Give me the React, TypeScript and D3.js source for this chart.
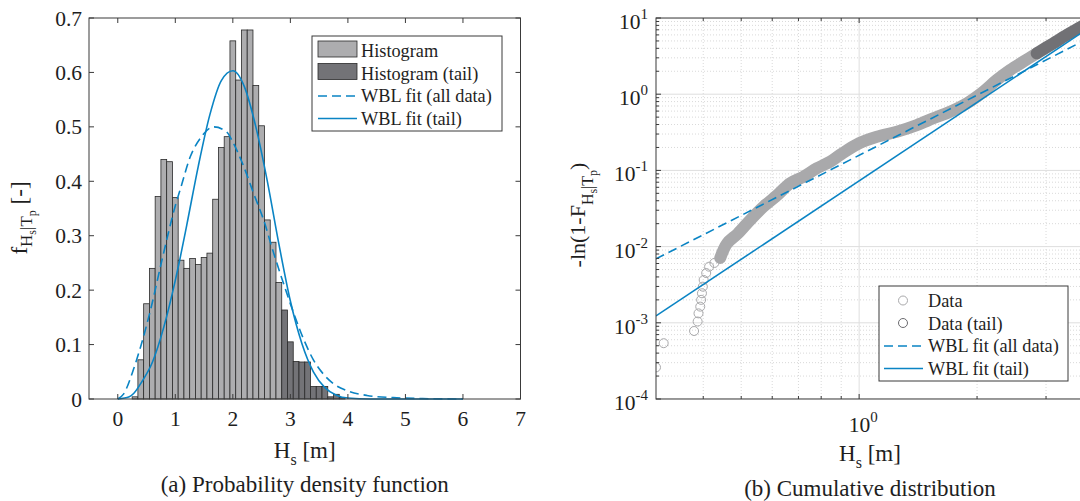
import React from "react";
import * as d3 from "d3";

// ---- (a) histogram: bin lower edges and densities
const histBinWidth = 0.1;
const histLo = [0.25, 0.35, 0.45, 0.55, 0.65, 0.75, 0.85, 0.95, 1.05, 1.15, 1.25, 1.35, 1.45,
  1.55, 1.65, 1.75, 1.85, 1.95, 2.05, 2.15, 2.25, 2.35, 2.45, 2.55, 2.65, 2.75];
const histVal = [0.004, 0.072, 0.175, 0.24, 0.372, 0.44, 0.436, 0.37, 0.255, 0.24, 0.258, 0.247, 0.26,
  0.268, 0.367, 0.462, 0.482, 0.658, 0.586, 0.678, 0.678, 0.576, 0.502, 0.329, 0.288, 0.214];
const tailLo = [2.85, 2.95, 3.05, 3.15, 3.25, 3.35, 3.45, 3.55, 3.65, 3.75, 3.85];
const tailVal = [0.1635, 0.105, 0.069, 0.068, 0.068, 0.023, 0.023, 0.023, 0.004, 0.0086, 0.003];

// WBL pdf curves
const pdfAllHs = [0, 0.1, 0.275, 0.4, 0.57, 0.77, 1.0, 1.1, 1.26, 1.44, 1.67, 1.9, 2.0, 2.19, 2.36,
  2.535, 2.71, 2.88, 3.06, 3.23, 3.4, 3.58, 3.75, 3.98, 4.33, 4.79, 5.3, 6];
const pdfAllVal = [0, 0.009, 0.055, 0.097, 0.164, 0.256, 0.355, 0.39, 0.445, 0.48, 0.5, 0.49, 0.472,
  0.427, 0.378, 0.329, 0.268, 0.2125, 0.157, 0.11, 0.072, 0.045, 0.028, 0.0155, 0.0065, 0.0025, 0.0008, 0];
const pdfTailHs = [0, 0.2, 0.28, 0.42, 0.6, 0.8, 1.0, 1.076, 1.2, 1.4, 1.6, 1.8, 2.0, 2.2, 2.4, 2.6,
  2.8, 3.0, 3.2, 3.4, 3.6, 3.8, 4.0, 4.4, 5, 6];
const pdfTailVal = [0, 0.004, 0.0105, 0.032, 0.067, 0.132, 0.218, 0.255, 0.32, 0.428, 0.522, 0.585,
  0.603, 0.574, 0.5, 0.4, 0.285, 0.18, 0.102, 0.05, 0.021, 0.007, 0.0017, 0.0001, 0, 0];

// ---- (b) cumulative: -ln(1-F) vs Hs
const cdfSparseHs = [0.303, 0.317, 0.379, 0.387, 0.389, 0.393, 0.395, 0.397, 0.399, 0.401, 0.407, 0.414, 0.427, 0.442];
const cdfSparseVal = [2.6e-4, 5.4e-4, 7.8e-4, 1.04e-3, 1.33e-3, 1.63e-3, 2.0e-3, 2.44e-3, 2.98e-3, 3.65e-3,
  4.5e-3, 5.45e-3, 6.1e-3, 7.1e-3];
const cdfBandHs = [0.442, 0.46, 0.49, 0.527, 0.57, 0.617, 0.667, 0.721, 0.78, 0.843, 0.894, 1.0, 1.11,
  1.248, 1.404, 1.547, 1.706, 1.883, 2.075, 2.245, 2.43, 2.625, 2.84];
const cdfBandVal = [0.0071, 0.011, 0.0148, 0.0223, 0.0334, 0.047, 0.0677, 0.0827, 0.1066, 0.13, 0.16,
  0.227, 0.277, 0.322, 0.394, 0.483, 0.589, 0.76, 1.08, 1.535, 2.08, 2.67, 3.44];
const cdfTailHs = [2.84, 3.13, 3.39, 3.63, 3.72];
const cdfTailVal = [3.44, 4.66, 5.99, 7.33, 7.9];

const fitAllHs = [0.303, 3.75];
const fitAllVal = [0.0069, 5.05];
const fitTailHs = [0.303, 3.75];
const fitTailVal = [0.00123, 6.7];

const xTicksL = [0, 1, 2, 3, 4, 5, 6, 7];
const yTicksL = [0, 0.1, 0.2, 0.3, 0.4, 0.5, 0.6, 0.7];
const yTickLabelsL = ["0", "0.1", "0.2", "0.3", "0.4", "0.5", "0.6", "0.7"];
const yExpR = [-4, -3, -2, -1, 0, 1];
const xMajorR = [1];
const xMinorR = [0.4, 0.5, 0.6, 0.7, 0.8, 0.9, 2, 3];

const legendA = ["Histogram", "Histogram (tail)", "WBL fit (all data)", "WBL fit (tail)"];
const legendB = ["Data", "Data (tail)", "WBL fit (all data)", "WBL fit (tail)"];

const blue = "#0a84c4";
const lightBar = "#adadaf";
const darkBar = "#737377";
const axisCol = "#3a3a3a";
const txt = "#1e1e1e";
const font = '"Liberation Serif", "Times New Roman", Times, serif';

export default function App() {
  const L = { x0: 89, x1: 520.5, y0: 18, y1: 399 };
  const R = { x0: 656, x1: 1084, y0: 18, y1: 399 };
  const xL = d3.scaleLinear().domain([-0.5, 7]).range([L.x0, L.x1]);
  const yL = d3.scaleLinear().domain([0, 0.7]).range([L.y1, L.y0]);
  const xR = d3.scaleLog().domain([0.303, 3.75]).range([R.x0, R.x1]);
  const yR = d3.scaleLog().domain([1e-4, 10]).range([R.y1, R.y0]);

  const pdfLine = (xs: number[], ys: number[]) =>
    d3.line<number>().x((d, i) => xL(xs[i])).y((d) => yL(d)).curve(d3.curveMonotoneX)(ys) || "";
  const cdfLine = (xs: number[], ys: number[]) =>
    d3.line<number>().x((d, i) => xR(xs[i])).y((d) => yR(d)).curve(d3.curveCatmullRom)(ys) || "";

  const yMinorR: number[] = [];
  yExpR.slice(0, -1).forEach((e) => {
    for (let m = 2; m <= 9; m++) yMinorR.push(m * Math.pow(10, e));
  });

  return (
    <svg width={1080} height={501} style={{ position: "absolute", left: 0, top: 0, background: "#fff", fontFamily: font }}>
      <defs>
        <clipPath id="clipR"><rect x={R.x0} y={R.y0} width={R.x1 - R.x0} height={R.y1 - R.y0} /></clipPath>
      </defs>

      {/* ===== (a) PDF ===== */}
      <g>
        {histLo.map((lo, i) => (
          <rect key={"h" + i} x={xL(lo)} y={yL(histVal[i])} width={xL(lo + histBinWidth) - xL(lo)}
            height={yL(0) - yL(histVal[i])} fill={lightBar} stroke="#2a2a2a" strokeWidth={0.8} />
        ))}
        {tailLo.map((lo, i) => (
          <rect key={"t" + i} x={xL(lo)} y={yL(tailVal[i])} width={xL(lo + histBinWidth) - xL(lo)}
            height={yL(0) - yL(tailVal[i])} fill={darkBar} stroke="#2a2a2a" strokeWidth={0.8} />
        ))}
        <path d={pdfLine(pdfAllHs, pdfAllVal)} fill="none" stroke={blue} strokeWidth={1.6} strokeDasharray="9 5" />
        <path d={pdfLine(pdfTailHs, pdfTailVal)} fill="none" stroke={blue} strokeWidth={1.6} />

        <rect x={L.x0} y={L.y0} width={L.x1 - L.x0} height={L.y1 - L.y0} fill="none" stroke={axisCol} strokeWidth={1} />
        {xTicksL.map((t) => (
          <g key={"xt" + t}>
            <line x1={xL(t)} x2={xL(t)} y1={L.y1} y2={L.y1 - 5} stroke={axisCol} />
            <line x1={xL(t)} x2={xL(t)} y1={L.y0} y2={L.y0 + 5} stroke={axisCol} />
            <text x={xL(t)} y={426} fontSize={21.5} textAnchor="middle" fill={txt}>{t}</text>
          </g>
        ))}
        {yTicksL.map((t, i) => (
          <g key={"yt" + i}>
            <line x1={L.x0} x2={L.x0 + 5} y1={yL(t)} y2={yL(t)} stroke={axisCol} />
            <line x1={L.x1} x2={L.x1 - 5} y1={yL(t)} y2={yL(t)} stroke={axisCol} />
            <text x={82} y={yL(t) + 7.5} fontSize={21.5} textAnchor="end" fill={txt}>{yTickLabelsL[i]}</text>
          </g>
        ))}
        <text x={(L.x0 + L.x1) / 2} y={458} fontSize={23} textAnchor="middle" fill={txt}>
          H<tspan fontSize={16} dy={7}>s</tspan><tspan dy={-7}> [m]</tspan>
        </text>
        <text x={(L.x0 + L.x1) / 2} y={492} fontSize={23} textAnchor="middle" fill={txt}>
          (a) Probability density function
        </text>
        <text transform="translate(27,218) rotate(-90)" fontSize={23} textAnchor="middle" fill={txt}>
          f<tspan fontSize={17} dy={5}>H</tspan><tspan fontSize={12} dy={4}>s</tspan>
          <tspan fontSize={17} dy={-4}>|T</tspan><tspan fontSize={12} dy={4}>p</tspan>
          <tspan dy={-9}>  [-]</tspan>
        </text>

        {/* legend */}
        <rect x={312} y={36} width={190} height={95} fill="#fff" stroke={axisCol} strokeWidth={1} />
        {legendA.map((s, i) => {
          const by = 57 + i * 22.5;
          return (
            <g key={"la" + i}>
              {i < 2 && <rect x={318} y={by - 16} width={39} height={16} fill={i === 0 ? lightBar : darkBar} stroke="#2a2a2a" strokeWidth={0.8} />}
              {i >= 2 && <line x1={318} x2={357} y1={by - 6} y2={by - 6} stroke={blue} strokeWidth={1.6}
                strokeDasharray={i === 2 ? "9 5" : undefined} />}
              <text x={361} y={by} fontSize={18.3} fill={txt}>{s}</text>
            </g>
          );
        })}
      </g>

      {/* ===== (b) CDF ===== */}
      <g>
        <g clipPath="url(#clipR)">
          {yMinorR.map((v, i) => (
            <line key={"gym" + i} x1={R.x0} x2={R.x1} y1={yR(v)} y2={yR(v)} stroke="#cfcfcf" strokeWidth={0.8} strokeDasharray="1 2" />
          ))}
          {xMinorR.map((v, i) => (
            <line key={"gxm" + i} x1={xR(v)} x2={xR(v)} y1={R.y0} y2={R.y1} stroke="#cfcfcf" strokeWidth={0.8} strokeDasharray="1 2" />
          ))}
          {yExpR.map((e) => (
            <line key={"gy" + e} x1={R.x0} x2={R.x1} y1={yR(Math.pow(10, e))} y2={yR(Math.pow(10, e))} stroke="#dedede" strokeWidth={1} />
          ))}
          {xMajorR.map((v) => (
            <line key={"gx" + v} x1={xR(v)} x2={xR(v)} y1={R.y0} y2={R.y1} stroke="#dedede" strokeWidth={1} />
          ))}

          {cdfSparseHs.map((h, i) => (
            <circle key={"cs" + i} cx={xR(h)} cy={yR(cdfSparseVal[i])} r={4.5} fill="none" stroke="#a9a9ab" strokeWidth={1} />
          ))}
          <path d={cdfLine(cdfBandHs, cdfBandVal)} fill="none" stroke="#a9a9ab" strokeWidth={12} strokeLinecap="round" />
          <path d={cdfLine(cdfTailHs, cdfTailVal)} fill="none" stroke="#717175" strokeWidth={12} strokeLinecap="round" />

          <path d={cdfLine(fitAllHs, fitAllVal)} fill="none" stroke={blue} strokeWidth={1.6} strokeDasharray="9 5" />
          <path d={cdfLine(fitTailHs, fitTailVal)} fill="none" stroke={blue} strokeWidth={1.6} />
        </g>

        <rect x={R.x0} y={R.y0} width={R.x1 - R.x0} height={R.y1 - R.y0} fill="none" stroke={axisCol} strokeWidth={1} />
        {yExpR.map((e) => {
          const y = yR(Math.pow(10, e));
          return (
            <g key={"yr" + e}>
              <line x1={R.x0} x2={R.x0 + 5} y1={y} y2={y} stroke={axisCol} />
              <text x={648} y={y + 11} fontSize={21.5} textAnchor="end" fill={txt}>
                10<tspan fontSize={15} dy={-10}>{e}</tspan>
              </text>
            </g>
          );
        })}
        {yMinorR.map((v, i) => (
          <line key={"ymt" + i} x1={R.x0} x2={R.x0 + 3} y1={yR(v)} y2={yR(v)} stroke={axisCol} />
        ))}
        {xMinorR.map((v, i) => (
          <g key={"xmt" + i}>
            <line x1={xR(v)} x2={xR(v)} y1={R.y1} y2={R.y1 - 3} stroke={axisCol} />
            <line x1={xR(v)} x2={xR(v)} y1={R.y0} y2={R.y0 + 3} stroke={axisCol} />
          </g>
        ))}
        {xMajorR.map((v) => (
          <g key={"xr" + v}>
            <line x1={xR(v)} x2={xR(v)} y1={R.y1} y2={R.y1 - 5} stroke={axisCol} />
            <line x1={xR(v)} x2={xR(v)} y1={R.y0} y2={R.y0 + 5} stroke={axisCol} />
            <text x={xR(v) + 4} y={432} fontSize={21.5} textAnchor="middle" fill={txt}>
              10<tspan fontSize={15} dy={-10}>0</tspan>
            </text>
          </g>
        ))}
        <text x={(R.x0 + R.x1) / 2} y={461} fontSize={23} textAnchor="middle" fill={txt}>
          H<tspan fontSize={16} dy={7}>s</tspan><tspan dy={-7}> [m]</tspan>
        </text>
        <text x={(R.x0 + R.x1) / 2} y={496} fontSize={23} textAnchor="middle" fill={txt}>
          (b) Cumulative distribution
        </text>
        <text transform="translate(585,215) rotate(-90)" fontSize={22} textAnchor="middle" fill={txt}>
          -ln(1-F<tspan fontSize={16} dy={8}>H</tspan><tspan fontSize={12} dy={4}>s</tspan>
          <tspan fontSize={16} dy={-4}>|T</tspan><tspan fontSize={12} dy={4}>p</tspan>
          <tspan dy={-12}>)</tspan>
        </text>

        {/* legend */}
        <rect x={879} y={286} width={189} height={95} fill="#fff" stroke={axisCol} strokeWidth={1} />
        {legendB.map((s, i) => {
          const by = 307 + i * 22.5;
          return (
            <g key={"lb" + i}>
              {i < 2 && <circle cx={903} cy={by - 6.5} r={4.5} fill="none" stroke={i === 0 ? "#a9a9ab" : "#6b6b6f"} strokeWidth={1} />}
              {i >= 2 && <line x1={884} x2={923} y1={by - 6} y2={by - 6} stroke={blue} strokeWidth={1.6}
                strokeDasharray={i === 2 ? "9 5" : undefined} />}
              <text x={928} y={by} fontSize={18.3} fill={txt}>{s}</text>
            </g>
          );
        })}
      </g>
    </svg>
  );
}
